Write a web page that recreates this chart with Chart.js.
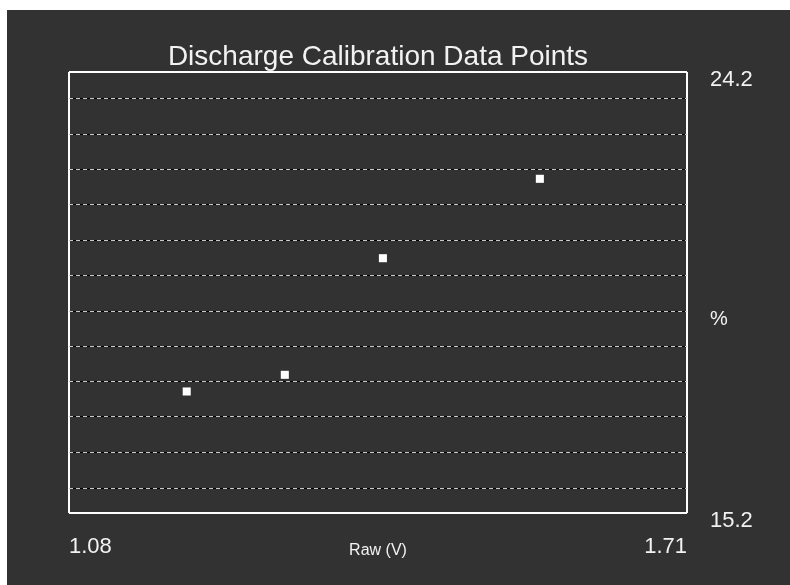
<!DOCTYPE html>
<html>
<head>
<meta charset="utf-8">
<script src="https://cdn.jsdelivr.net/npm/chart.js@4.4.1/dist/chart.umd.min.js"></script>
<style>
  html, body { margin: 0; padding: 0; background: #fff; }
  #wrap { position: absolute; left: 7px; top: 10px; width: 783px; height: 575px; background: #323232; }
</style>
</head>
<body>
<div id="wrap"><canvas id="chart"></canvas></div>
<script>
// raw voltage (V) against discharge (%)
const rawVolts = [1.20, 1.30, 1.40, 1.56];
const percentValues = [17.68, 18.02, 20.40, 22.02];
const xTickLabels = [1.08, 1.71];
const yTickLabels = [15.2, 24.2];
const gridValues = [23.65, 22.93, 22.21, 21.49, 20.76, 20.04, 19.32, 18.60, 17.88, 17.16, 16.43, 15.71];

const FONT = "'Liberation Sans', Arial, sans-serif";
const TEXT = '#f2f2f2';

const percentLabel = {
    id: 'percentLabel',
    afterDraw(chart) {
        const { ctx, chartArea } = chart;
        ctx.save();
        ctx.fillStyle = TEXT;
        ctx.font = '20px ' + FONT;
        ctx.textAlign = 'left';
        ctx.textBaseline = 'middle';
        ctx.fillText('%', chartArea.right + 23, chartArea.top + (chartArea.bottom - chartArea.top) * 0.562);
        ctx.restore();
    }
};

const points = rawVolts.map((v, i) => ({ x: v, y: percentValues[i] }));

// grid-only axes (black under, grey dashes on top)
const gridAxis = (color, dash, z) => ({
    position: 'left',
    min: yTickLabels[0],
    max: yTickLabels[1],
    afterBuildTicks: axis => { axis.ticks = gridValues.map(v => ({ value: v })); },
    afterFit: axis => { axis.width = 0; },
    ticks: { display: false },
    border: { display: false, dash: dash },
    grid: { color: color, lineWidth: 1, drawTicks: false, z: z }
});

new Chart(document.getElementById('chart').getContext('2d'), {
    type: 'scatter',
    data: {
        datasets: [{
            data: points,
            pointStyle: 'rect',
            pointRadius: 5.7,
            pointHoverRadius: 5.7,
            backgroundColor: '#ffffff',
            borderWidth: 0
        }]
    },
    options: {
        responsive: true,
        maintainAspectRatio: false,
        animation: false,
        layout: { padding: { left: 62, right: 0, top: 0, bottom: 0 } },
        plugins: {
            legend: { display: false },
            tooltip: { enabled: false },
            title: {
                display: true,
                fullSize: false,
                text: 'Discharge Calibration Data Points',
                color: TEXT,
                font: { family: FONT, size: 28, weight: 'normal', lineHeight: 1 },
                padding: { top: 33, bottom: 1 }
            }
        },
        scales: {
            x: {
                type: 'linear',
                position: 'bottom',
                min: xTickLabels[0],
                max: xTickLabels[1],
                afterBuildTicks: axis => { axis.ticks = xTickLabels.map(v => ({ value: v })); },
                afterFit: axis => { axis.height = 72; },
                border: { display: false },
                grid: { color: '#ffffff', lineWidth: 2, drawTicks: false },
                ticks: {
                    color: TEXT,
                    font: { family: FONT, size: 22 },
                    align: 'inner',
                    padding: 21,
                    maxRotation: 0,
                    callback: v => v.toFixed(2)
                },
                title: {
                    display: true,
                    text: 'Raw (V)',
                    color: TEXT,
                    font: { family: FONT, size: 16 },
                    padding: { top: 0, bottom: 25 }
                }
            },
            y: {
                type: 'linear',
                position: 'right',
                min: yTickLabels[0],
                max: yTickLabels[1],
                afterBuildTicks: axis => { axis.ticks = yTickLabels.map(v => ({ value: v })); },
                afterFit: axis => { axis.width = 103; },
                border: { display: false },
                grid: { color: '#ffffff', lineWidth: 2, drawTicks: false },
                ticks: {
                    color: TEXT,
                    font: { family: FONT, size: 22 },
                    padding: 23,
                    labelOffset: 8,
                    callback: v => v.toFixed(1)
                }
            },
            gridBlack: gridAxis('#000000', [], -1),
            gridDash: gridAxis('#c8c8c8', [4, 3], 0)
        }
    },
    plugins: [percentLabel]
});
</script>
</body>
</html>
